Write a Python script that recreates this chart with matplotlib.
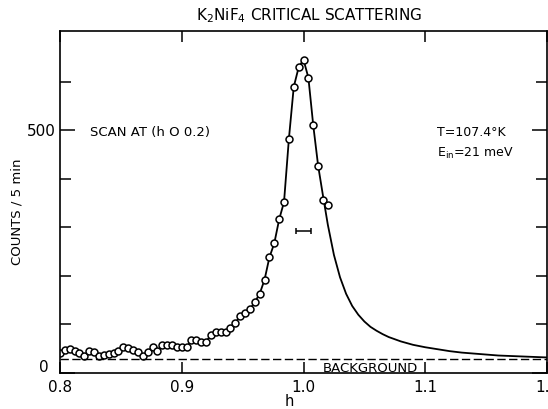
import numpy as np
import matplotlib
matplotlib.use('Agg')
import matplotlib.pyplot as plt
from matplotlib.transforms import ScaledTranslation

plt.rcParams['font.family'] = 'DejaVu Sans'
plt.rcParams['mathtext.default'] = 'regular'

# measured points of the (h 0 0.2) scan
h = [0.800, 0.804, 0.808, 0.812, 0.816, 0.820, 0.824, 0.828, 0.832, 0.836,
     0.840, 0.844, 0.848, 0.852, 0.856, 0.860, 0.864, 0.868, 0.872, 0.876,
     0.880, 0.884, 0.888, 0.892, 0.896, 0.900, 0.904, 0.908, 0.912, 0.916,
     0.920, 0.924, 0.928, 0.932, 0.936, 0.940, 0.944, 0.948, 0.952, 0.956,
     0.960, 0.964, 0.968, 0.972, 0.976, 0.980, 0.984, 0.988, 0.992, 0.996,
     1.000, 1.004, 1.008, 1.012, 1.016, 1.020]
counts = [42, 47, 49, 46, 42, 35, 45, 44, 36, 37,
          39, 41, 45, 54, 51, 48, 43, 35, 43, 54,
          45, 57, 57, 57, 53, 53, 53, 68, 67, 64,
          64, 79, 84, 84, 84, 93, 103, 117, 123, 131,
          146, 163, 192, 238, 267, 316, 352, 482, 589, 629,
          645, 608, 510, 427, 356, 346]

# fitted curve beyond the last measured point
tail_h = [1.016, 1.020, 1.025, 1.030, 1.035, 1.040, 1.045, 1.050, 1.055,
          1.060, 1.065, 1.070, 1.080, 1.090, 1.100, 1.110, 1.120, 1.130,
          1.140, 1.150, 1.160, 1.170, 1.180, 1.190, 1.200]
tail_counts = [365, 305, 243, 197, 163, 138, 120, 106, 95,
               87, 80, 74, 65, 58, 53, 49, 45, 42,
               40, 38, 36, 35, 34, 33, 32]

background = 28
res_center = 1.0
res_counts = 292
res_halfwidth = 0.0058

line_h = h[:54] + tail_h
line_counts = counts[:54] + tail_counts

fig = plt.figure(figsize=(5.48, 4.09), dpi=100)
ax = fig.add_axes([60/548, 36/409, 487/548, 342/409])

ax.plot(line_h, line_counts, color='black', lw=1.3)
ax.plot(h, counts, 'o', mfc='white', mec='black', ms=5, mew=1.1)
ax.axhline(background, color='black', lw=1.0, ls=(0, (6, 2.5)))
ax.errorbar(res_center, res_counts, xerr=res_halfwidth, fmt='none',
            ecolor='black', elinewidth=1.1, capsize=2.5, capthick=1.1)

ax.set_xlim(0.8, 1.2)
ax.set_ylim(0, 704)
ax.set_xticks([0.8, 0.9, 1.0, 1.1, 1.2])
ax.set_xticklabels(['0.8', '0.9', '1.0', '1.1', '1.2'])
ax.set_yticks([0, 500])
ax.set_yticklabels(['0', '500'])
ax.set_yticks([100, 200, 300, 400, 600], minor=True)
ax.tick_params(which='both', direction='in', top=True, right=True,
               width=1.1, labelsize=11)
ax.tick_params(which='major', length=11)
ax.tick_params(which='minor', length=8)
ax.tick_params(axis='x', which='major', length=8, pad=5)
ax.tick_params(axis='y', pad=3)
for s in ax.spines.values():
    s.set_linewidth(1.2)

# lift the zero label clear of the 0.8 label
zero_lbl = ax.get_yticklabels()[0]
zero_lbl.set_transform(zero_lbl.get_transform()
                       + ScaledTranslation(-5/72, 5/72, fig.dpi_scale_trans))

fig.text(17/548, 1 - 212/409, 'COUNTS / 5 min', rotation=90,
         ha='center', va='center', fontsize=9.5)
fig.text(289/548, 1 - 401/409, 'h', ha='center', va='center', fontsize=10.5)

fig.text(309/548, 1 - 16/409, r'K$_2$NiF$_4$ CRITICAL SCATTERING',
         ha='center', va='center', fontsize=11)
ax.text(0.062, 0.704, 'SCAN AT (h O 0.2)', transform=ax.transAxes,
        ha='left', va='center', fontsize=9.5)
ax.text(0.774, 0.702, 'T=107.4°K', transform=ax.transAxes,
        ha='left', va='center', fontsize=9)
ax.text(0.774, 0.643, r'E$_{in}$=21 meV', transform=ax.transAxes,
        ha='left', va='center', fontsize=9)
ax.text(1.055, 9, 'BACKGROUND', ha='center', va='center', fontsize=9.5)

fig.savefig('out.png', dpi=100)
